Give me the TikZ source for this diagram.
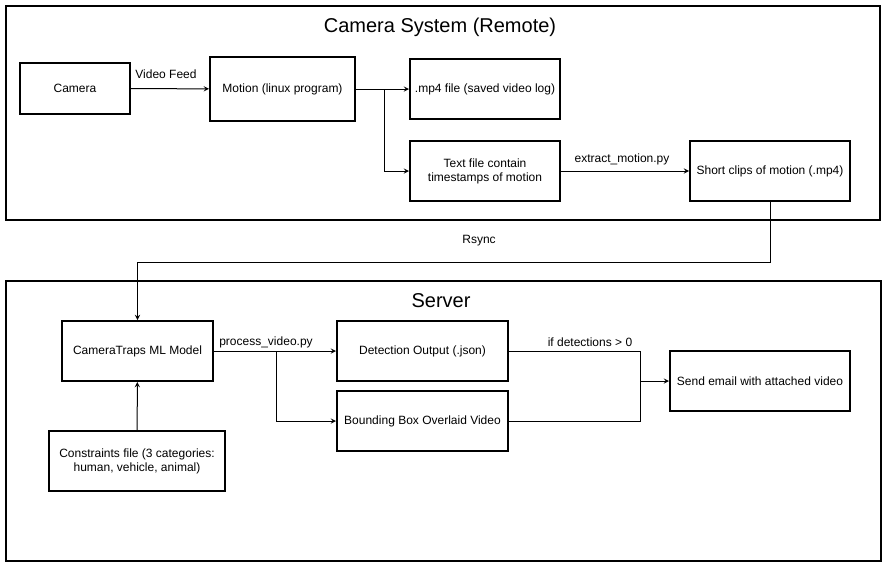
\documentclass[tikz,border=0pt]{standalone}
\usepackage{fontspec}
\setmainfont{Liberation Sans}
\usetikzlibrary{positioning}

\begin{document}
\begin{tikzpicture}[>=stealth,x=0.75pt,y=-0.75pt,
    group node/.style={draw,line width=1.5pt,inner sep=0pt},
    main node/.style={draw,line width=1.5pt,inner sep=0pt,align=center,font=\fontsize{9}{10.5}\selectfont},
    title node/.style={font=\fontsize{15}{18}\selectfont},
    label node/.style={font=\fontsize{9}{10.5}\selectfont}]
            \useasboundingbox (0,0) rectangle (888,568);

            \node[group node,minimum width=655.5pt,minimum height=160.5pt] (cam sys) at (443,113) {};
            \node[group node,minimum width=656.25pt,minimum height=210pt] (server) at (443.5,421) {};
            \node[title node] (t1) at (440,27) {Camera System (Remote)};
            \node[title node] (t2) at (441,301) {Server};

            \node[main node,minimum width=82.5pt,minimum height=38.25pt] (1) at (75,88.5) {Camera};
            \node[main node,minimum width=108.75pt,minimum height=48pt] (2) at (282.5,89) {Motion (linux program)};
            \node[main node,minimum width=112.5pt,minimum height=45pt] (3) at (485,89) {.mp4 file (saved video log)};
            \node[main node,minimum width=112.5pt,minimum height=45pt] (4) at (485,171) {Text file contain\\timestamps of motion};
            \node[main node,minimum width=120pt,minimum height=45pt] (5) at (770,171) {Short clips of motion (.mp4)};

            \node[main node,minimum width=113.25pt,minimum height=45pt] (6) at (137.5,351) {CameraTraps ML Model};
            \node[main node,minimum width=132pt,minimum height=45pt] (7) at (137,461) {Constraints file (3 categories:\\human, vehicle, animal)};
            \node[main node,minimum width=128.25pt,minimum height=45pt] (8) at (422.5,351) {Detection Output (.json)};
            \node[main node,minimum width=128.25pt,minimum height=45pt] (9) at (422.5,421) {Bounding Box Overlaid Video};
            \node[main node,minimum width=135pt,minimum height=45pt] (10) at (760,381) {Send email with attached video};

            \node[label node] (l1) at (166,74) {Video Feed};
            \node[label node] (l2) at (622,159) {extract\_motion.py};
            \node[label node] (l3) at (479,241) {Rsync};
            \node[label node] (l4) at (266,342) {process\_video.py};
            \node[label node] (l5) at (590,342) {if detections > 0};

            \coordinate (join) at (640,381);

            \path[->,line width=0.75pt]
                (1) edge (2)
                (2) edge (3)
                (4) edge (5)
                (7) edge (6)
                (6) edge (8)
                (join) edge (10)
                ;
            \draw[->,line width=0.75pt] (2.east) -- ++(28,0) |- (4.west);
            \draw[->,line width=0.75pt] (5.south) -- ++(0,60) -| (6.north);
            \draw[->,line width=0.75pt] (6.east) -- ++(62,0) |- (9.west);
            \draw[line width=0.75pt] (8.east) -| (join);
            \draw[line width=0.75pt] (9.east) -| (join);
        \end{tikzpicture}
\end{document}
